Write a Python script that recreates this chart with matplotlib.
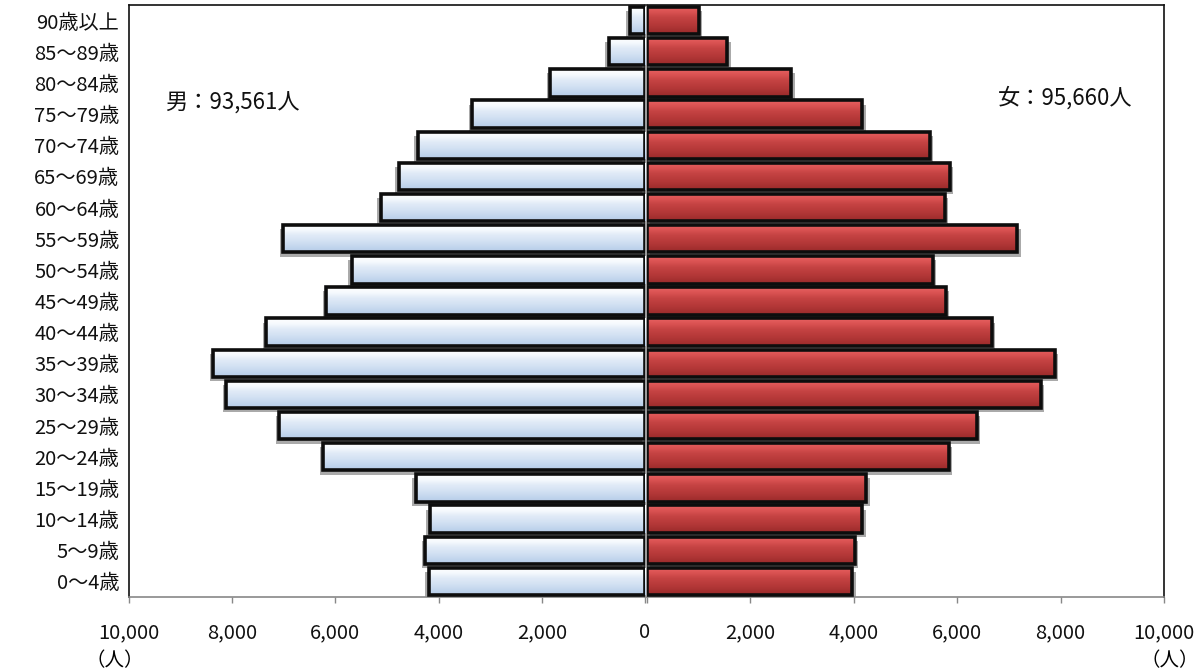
import numpy as np
import matplotlib
matplotlib.use("Agg")
import matplotlib.pyplot as plt
from matplotlib.colors import LinearSegmentedColormap
import matplotlib.patheffects as pe

plt.rcParams['font.family'] = ['Noto Sans CJK JP', 'DejaVu Sans']

# ---- data (bottom to top) ----
age_groups = ["0～4歳", "5～9歳", "10～14歳", "15～19歳", "20～24歳", "25～29歳",
              "30～34歳", "35～39歳", "40～44歳", "45～49歳", "50～54歳", "55～59歳",
              "60～64歳", "65～69歳", "70～74歳", "75～79歳", "80～84歳", "85～89歳",
              "90歳以上"]
male = [4190, 4260, 4170, 4440, 6240, 7090, 8120, 8370, 7345, 6180, 5680, 7015,
        5120, 4770, 4400, 3350, 1840, 700, 300]
female = [3970, 4020, 4160, 4240, 5840, 6380, 7620, 7890, 6670, 5780, 5530, 7160,
          5760, 5860, 5470, 4160, 2790, 1550, 1000]
male_total_label = "男：93,561人"
female_total_label = "女：95,660人"
x_ticks = [0, 2000, 4000, 6000, 8000, 10000]
unit_label = "（人）"

W, H = 1204, 671
fig = plt.figure(figsize=(W / 100, H / 100), dpi=100)
axL = fig.add_axes([129 / W, 74 / H, 516 / W, 592 / H])
axR = fig.add_axes([647 / W, 74 / H, 517 / W, 592 / H])

y = np.arange(len(age_groups))
bar_h = 0.88
edge_lw = 2.6

blue_cmap = LinearSegmentedColormap.from_list(
    "b", ["#b5cbe7", "#c4d7ee", "#d4e2f3", "#e0eaf7", "#f5f9fd", "#ffffff"])
red_cmap = LinearSegmentedColormap.from_list(
    "r", ["#982a2a", "#ab3333", "#b93b3b", "#c54343", "#da5252", "#e86262"])
grad = np.linspace(0, 1, 64).reshape(-1, 1)


def draw_side(ax, vals, cmap, base, shadow_dx):
    fills = ax.barh(y, vals, height=bar_h, color=base, edgecolor='none', zorder=2)
    for b in fills:
        b.set_path_effects([pe.SimplePatchShadow(offset=(shadow_dx, -3),
                                                 shadow_rgbFace='#444444', alpha=0.45),
                            pe.Normal()])
        x0, w = b.get_x(), b.get_width()
        y0, h = b.get_y(), b.get_height()
        im = ax.imshow(grad, cmap=cmap, extent=[x0, x0 + w, y0, y0 + h],
                       origin='lower', aspect='auto', zorder=3,
                       interpolation='bilinear')
        im.set_clip_path(b)
    ax.barh(y, vals, height=bar_h, facecolor='none', edgecolor='#0d0d0d',
            linewidth=edge_lw, zorder=4)


draw_side(axL, male, blue_cmap, '#d3e1f2', -2.5)
draw_side(axR, female, red_cmap, '#b83c3c', 2.5)

for ax in (axL, axR):
    ax.set_ylim(-0.5, len(age_groups) - 0.5)
    ax.set_xlim(0, 10000)
    ax.set_xticks(x_ticks)
    ax.tick_params(axis='x', direction='out', length=4, width=1.0,
                   color='#888888', pad=14, labelsize=14.5, labelcolor='#111111')
    for s in ax.spines.values():
        s.set_linewidth(1.2)
    ax.spines['bottom'].set_color('#888888')
    ax.spines['top'].set_color('#111111')

axL.invert_xaxis()
axL.set_xticklabels([f"{v:,}" for v in x_ticks])
axR.set_xticklabels(["" if v == 0 else f"{v:,}" for v in x_ticks])

axL.set_yticks(y)
axL.set_yticklabels(age_groups, fontsize=14.5, color='#111111')
axL.tick_params(axis='y', length=0, pad=7)
axR.set_yticks([])

axL.spines['left'].set_color('#111111')
axL.spines['right'].set_color('#888888')
axR.spines['right'].set_color('#111111')
axR.spines['left'].set_color('#888888')

axL.text(0.2, 0.834, male_total_label, transform=axL.transAxes,
         ha='center', va='center', fontsize=16, color='#111111')
axR.text(0.808, 0.843, female_total_label, transform=axR.transAxes,
         ha='center', va='center', fontsize=16, color='#111111')

fig.text(115 / W, 1 - 661 / H, unit_label, ha='center', va='center', fontsize=14)
fig.text(1170 / W, 1 - 661 / H, unit_label, ha='center', va='center', fontsize=14)

fig.savefig("out.png", dpi=100, facecolor='white')
